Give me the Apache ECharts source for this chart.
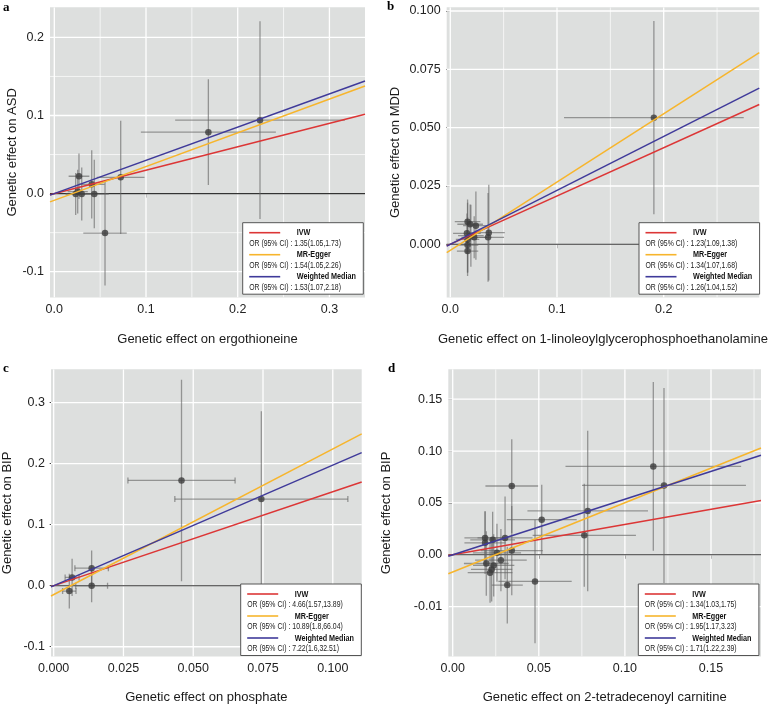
<!DOCTYPE html>
<html><head><meta charset="utf-8">
<script src="https://cdn.jsdelivr.net/npm/echarts@6/dist/echarts.min.js"></script>
<style>html,body{margin:0;padding:0;background:#fff}#c{width:770px;height:705px}</style>
</head><body><div id="c"></div>
<script>
// ---------- DATA ----------
const methods = ['IVW', 'MR-Egger', 'Weighted Median'];

// Panel a : ergothioneine -> ASD
const aBx = [0.168, 0.2243, 0.0724, 0.0553, 0.0408, 0.0436, 0.0269, 0.0233, 0.0255, 0.0299];
const aBy = [0.0786, 0.094, 0.0209, -0.0505, 0.0119, -0.0005, 0.0222, -0.0005, 0.0026, -0.0005];
const aSx = [0.0736, 0.0925, 0.026, 0.0237, 0.0141, 0.0158, 0.0113, 0.011, 0.011, 0.011];
const aSy = [0.0677, 0.1265, 0.0725, 0.0671, 0.0437, 0.044, 0.029, 0.027, 0.028, 0.034];
const aOR = [1.35, 1.54, 1.53];
const aCI = ['1.35(1.05,1.73)', '1.54(1.05,2.26)', '1.53(1.07,2.18)'];
const aEggerIntercept = -0.0086;
const aXTicks = [0, 0.1, 0.2, 0.3];
const aXLabels = ['0.0', '0.1', '0.2', '0.3'];
const aYTicks = [-0.1, 0, 0.1, 0.2];
const aYLabels = ['-0.1', '0.0', '0.1', '0.2'];
const aXMinor = [0.05, 0.15, 0.25];
const aYMinor = [-0.05, 0.05, 0.15];
const aXRange = [-0.0047, 0.3388];
const aYRange = [-0.133, 0.2385];
const aXName = 'Genetic effect on ergothioneine';
const aYName = 'Genetic effect on ASD';

// Panel b : 1-linoleoylglycerophosphoethanolamine -> MDD
const bBx = [0.1908, 0.0162, 0.0186, 0.024, 0.0156, 0.0193, 0.0224, 0.0162, 0.0162, 0.0162, 0.0361, 0.0354];
const bBy = [0.0543, 0.0097, 0.0086, 0.008, 0.0047, 0.0037, 0.003, 0.0021, -0.0003, -0.0029, 0.005, 0.003];
const bSx = [0.0842, 0.012, 0.012, 0.012, 0.013, 0.012, 0.012, 0.011, 0.010, 0.010, 0.015, 0.015];
const bSy = [0.0414, 0.0095, 0.0085, 0.0146, 0.0085, 0.0133, 0.009, 0.0157, 0.012, 0.009, 0.0205, 0.019];
const bOR = [1.23, 1.34, 1.26];
const bCI = ['1.23(1.09,1.38)', '1.34(1.07,1.68)', '1.26(1.04,1.52)'];
const bEggerIntercept = -0.0026;
const bXTicks = [0, 0.1, 0.2];
const bXLabels = ['0.0', '0.1', '0.2'];
const bYTicks = [0, 0.025, 0.05, 0.075, 0.1];
const bYLabels = ['0.000', '0.025', '0.050', '0.075', '0.100'];
const bXMinor = [0.05, 0.15, 0.25];
const bYMinor = [];
const bXRange = [-0.00336, 0.28956];
const bYRange = [-0.0228, 0.10159];
const bXName = 'Genetic effect on 1-linoleoylglycerophosphoethanolamine';
const bYName = 'Genetic effect on MDD';

// Panel c : phosphate -> BIP
const cBx = [0.0458, 0.0744, 0.0136, 0.0066, 0.0056, 0.0136];
const cBy = [0.1725, 0.142, 0.0288, 0.0136, -0.0088, 0.0];
const cSx = [0.0192, 0.031, 0.006, 0.0025, 0.0024, 0.0057];
const cSy = [0.165, 0.144, 0.029, 0.0305, 0.0285, 0.027];
const cOR = [4.66, 10.89, 7.22];
const cCI = ['4.66(1.57,13.89)', '10.89(1.8,66.04)', '7.22(1.6,32.51)'];
const cEggerIntercept = -0.0146;
const cXTicks = [0, 0.025, 0.05, 0.075, 0.1];
const cXLabels = ['0.000', '0.025', '0.050', '0.075', '0.100'];
const cYTicks = [-0.1, 0, 0.1, 0.2, 0.3];
const cYLabels = ['-0.1', '0.0', '0.1', '0.2', '0.3'];
const cXMinor = [];
const cYMinor = [];
const cXRange = [-0.00096, 0.11036];
const cYRange = [-0.116, 0.3546];
const cXName = 'Genetic effect on phosphate';
const cYName = 'Genetic effect on BIP';

// Panel d : 2-tetradecenoyl carnitine -> BIP
const dBx = [0.1165, 0.1227, 0.0784, 0.0764, 0.0517, 0.0478, 0.0343, 0.0343, 0.0304, 0.0188, 0.0188, 0.0232, 0.0257, 0.028, 0.0195, 0.0238, 0.0226, 0.0217, 0.0317];
const dBy = [0.0852, 0.0669, 0.0423, 0.0188, 0.0339, -0.0257, 0.0663, 0.0041, 0.0163, 0.0163, 0.0115, 0.0144, 0.0019, -0.0052, -0.0084, -0.0103, -0.0141, -0.0173, -0.0292];
const dSx = [0.051, 0.0476, 0.035, 0.030, 0.0203, 0.0213, 0.0153, 0.018, 0.016, 0.012, 0.012, 0.013, 0.014, 0.015, 0.013, 0.012, 0.012, 0.013, 0.009];
const dSy = [0.0814, 0.094, 0.0774, 0.0497, 0.0337, 0.0596, 0.0452, 0.043, 0.040, 0.026, 0.030, 0.027, 0.028, 0.030, 0.031, 0.030, 0.031, 0.029, 0.037];
const dOR = [1.34, 1.95, 1.71];
const dCI = ['1.34(1.03,1.75)', '1.95(1.17,3.23)', '1.71(1.22,2.39)'];
const dEggerIntercept = -0.0166;
const dXTicks = [0, 0.05, 0.1, 0.15];
const dXLabels = ['0.00', '0.05', '0.10', '0.15'];
const dYTicks = [-0.05, 0, 0.05, 0.1, 0.15];
const dYLabels = ['-0.01', '0.00', '0.05', '0.10', '0.15'];
const dXMinor = [0.025, 0.075, 0.125, 0.175];
const dYMinor = [];
const dXRange = [-0.00256, 0.17904];
const dYRange = [-0.09808, 0.17885];
const dXName = 'Genetic effect on 2-tetradecenoyl carnitine';
const dYName = 'Genetic effect on BIP';

// ---------- BUILD ----------
const FONT = "'Liberation Sans',Arial,sans-serif";
const lineColors = ['#DC3636', '#F7B52C', '#3F3A9A'];

const panels = [
  {letter: 'a', bx: aBx, by: aBy, sx: aSx, sy: aSy, or: aOR, ci: aCI, icpt: aEggerIntercept,
   xt: aXTicks, xl: aXLabels, yt: aYTicks, yl: aYLabels, xm: aXMinor, ym: aYMinor, xr: aXRange, yr: aYRange,
   xname: aXName, yname: aYName, grid: {left: 50, top: 7.3, width: 315, height: 290.2},
   xGap: 35, yGap: 31, legend: [242.7, 222.7], letterPos: [3, 7.5], cap: false},
  {letter: 'b', bx: bBx, by: bBy, sx: bSx, sy: bSy, or: bOR, ci: bCI, icpt: bEggerIntercept,
   xt: bXTicks, xl: bXLabels, yt: bYTicks, yl: bYLabels, xm: bXMinor, ym: bYMinor, xr: bXRange, yr: bYRange,
   xname: bXName, yname: bYName, grid: {left: 446.7, top: 7.3, width: 314.3, height: 290.2},
   xGap: 35, yGap: 45, legend: [639, 222.7], letterPos: [387, 7], cap: false},
  {letter: 'c', bx: cBx, by: cBy, sx: cSx, sy: cSy, or: cOR, ci: cCI, icpt: cEggerIntercept,
   xt: cXTicks, xl: cXLabels, yt: cYTicks, yl: cYLabels, xm: cXMinor, ym: cYMinor, xr: cXRange, yr: cYRange,
   xname: cXName, yname: cYName, grid: {left: 50, top: 369.3, width: 311.7, height: 288},
   xGap: 34.5, yGap: 37, legend: [240.7, 584], letterPos: [3, 368.3], cap: true},
  {letter: 'd', bx: dBx, by: dBy, sx: dSx, sy: dSy, or: dOR, ci: dCI, icpt: dEggerIntercept,
   xt: dXTicks, xl: dXLabels, yt: dYTicks, yl: dYLabels, xm: dXMinor, ym: dYMinor, xr: dXRange, yr: dYRange,
   xname: dXName, yname: dYName, grid: {left: 448.3, top: 369.3, width: 312.7, height: 288},
   xGap: 34.5, yGap: 55, legend: [638.3, 584], letterPos: [388, 368.3], cap: false}
];

function labelFor(ticks, labels) {
  return function (v) {
    const i = ticks.findIndex(t => Math.abs(t - v) < 1e-9);
    return i >= 0 ? labels[i] : '';
  };
}

const grids = [], xAxes = [], yAxes = [], series = [], graphics = [];

panels.forEach((p, k) => {
  grids.push(Object.assign({show: true, backgroundColor: '#DDDFDE', borderWidth: 0, containLabel: false}, p.grid));
  const axisCommon = {
    type: 'value',
    gridIndex: k,
    nameLocation: 'middle',
    nameTextStyle: {fontFamily: FONT, fontSize: 13, color: '#1a1a1a'},
    axisLine: {show: false},
    splitLine: {show: false},
    axisTick: {show: true, length: 4, lineStyle: {color: '#444', width: 1}},
  };
  const labelStyle = {fontFamily: FONT, fontSize: 12.5, color: '#222', margin: 6};
  xAxes.push(Object.assign({}, axisCommon, {
    min: p.xr[0], max: p.xr[1], name: p.xname, nameGap: p.xGap,
    axisTick: Object.assign({}, axisCommon.axisTick, {customValues: p.xt}),
    axisLabel: Object.assign({customValues: p.xt, formatter: labelFor(p.xt, p.xl)}, labelStyle)
  }));
  yAxes.push(Object.assign({}, axisCommon, {
    min: p.yr[0], max: p.yr[1], name: p.yname, nameGap: p.yGap,
    axisTick: Object.assign({}, axisCommon.axisTick, {customValues: p.yt}),
    axisLabel: Object.assign({customValues: p.yt, formatter: labelFor(p.yt, p.yl)}, labelStyle)
  }));

  // grid lines + zero reference line (custom)
  const gl = [];
  p.xm.forEach(v => gl.push([v, 0, 0]));
  p.ym.forEach(v => gl.push([v, 1, 0]));
  p.xt.forEach(v => gl.push([v, 0, 1]));
  p.yt.forEach(v => gl.push([v, 1, 1]));
  gl.push([0, 1, 2]);
  series.push({
    type: 'custom', xAxisIndex: k, yAxisIndex: k, silent: true, z: 1, clip: true,
    data: gl,
    encode: {x: -1, y: -1},
    renderItem: function (params, api) {
      const v = api.value(0), o = api.value(1), kind = api.value(2);
      const cs = params.coordSys;
      let shape;
      if (o === 0) {
        const px = api.coord([v, 0])[0];
        shape = {x1: px, y1: cs.y, x2: px, y2: cs.y + cs.height};
      } else {
        const py = api.coord([0, v])[1];
        shape = {x1: cs.x, y1: py, x2: cs.x + cs.width, y2: py};
      }
      const style = kind === 2 ? {stroke: '#333', lineWidth: 1.1}
        : kind === 1 ? {stroke: '#ffffff', lineWidth: 1.3}
        : {stroke: '#ffffff', lineWidth: 0.7};
      return {type: 'line', shape: shape, style: style};
    }
  });

  // error bars
  const eb = p.bx.map((x, i) => [x, p.by[i], p.sx[i], p.sy[i]]);
  const cap = p.cap;
  series.push({
    type: 'custom', xAxisIndex: k, yAxisIndex: k, silent: true, z: 2, clip: true,
    data: eb, encode: {x: 0, y: 1},
    renderItem: function (params, api) {
      const x = api.value(0), y = api.value(1), sx = api.value(2), sy = api.value(3);
      const v1 = api.coord([x, y - sy]), v2 = api.coord([x, y + sy]);
      const h1 = api.coord([x - sx, y]), h2 = api.coord([x + sx, y]);
      const st = {stroke: 'rgba(100,100,100,0.62)', lineWidth: 1.3};
      const ch = [
        {type: 'line', shape: {x1: v1[0], y1: v1[1], x2: v2[0], y2: v2[1]}, style: st},
        {type: 'line', shape: {x1: h1[0], y1: h1[1], x2: h2[0], y2: h2[1]}, style: st}
      ];
      if (cap) {
        ch.push({type: 'line', shape: {x1: h1[0], y1: h1[1] - 3, x2: h1[0], y2: h1[1] + 3}, style: st});
        ch.push({type: 'line', shape: {x1: h2[0], y1: h2[1] - 3, x2: h2[0], y2: h2[1] + 3}, style: st});
      }
      return {type: 'group', children: ch};
    }
  });

  // points
  series.push({
    type: 'scatter', xAxisIndex: k, yAxisIndex: k, z: 3, silent: true,
    symbol: 'circle', symbolSize: 6.5,
    itemStyle: {color: '#3c3c3c'},
    data: p.bx.map((x, i) => [x, p.by[i]])
  });

  // regression lines
  methods.forEach((m, j) => {
    const s = Math.log(p.or[j]);
    const b = m === 'MR-Egger' ? p.icpt : 0;
    series.push({
      type: 'line', xAxisIndex: k, yAxisIndex: k, z: 4, silent: true, clip: true,
      showSymbol: false, symbol: 'none', animation: false,
      lineStyle: {color: lineColors[j], width: 1.5},
      data: [[p.xr[0], b + s * p.xr[0]], [p.xr[1], b + s * p.xr[1]]]
    });
  });

  // legend box
  const L = p.legend;
  graphics.push({type: 'rect', z: 100, shape: {x: L[0], y: L[1], width: 120.6, height: 71.5},
               style: {fill: '#ffffff', stroke: '#555', lineWidth: 1}});
  methods.forEach((m, j) => {
    const ly = L[1] + 10 + j * 22;
    graphics.push({type: 'line', z: 101, shape: {x1: L[0] + 6.5, y1: ly, x2: L[0] + 37.5, y2: ly},
      style: {stroke: lineColors[j], lineWidth: 1.6}});
    graphics.push({type: 'text', z: 101, x: L[0] + 54, y: ly, scaleX: 0.76,
      style: {text: m, fill: '#111', font: "bold 9.5px " + FONT, verticalAlign: 'middle', align: 'left'}});
    graphics.push({type: 'text', z: 101, x: L[0] + 6.5, y: ly + 10.8, scaleX: 0.74,
      style: {text: 'OR (95% CI) : ' + p.ci[j], fill: '#222', font: "9.3px " + FONT, verticalAlign: 'middle', align: 'left'}});
  });

  graphics.push({type: 'text', x: p.letterPos[0], y: p.letterPos[1], z: 101,
    style: {text: p.letter, fill: '#000', font: "bold 13px 'Liberation Serif','DejaVu Serif',serif", verticalAlign: 'middle', align: 'left'}});
});

const chart = echarts.init(document.getElementById('c'));
chart.setOption({
  animation: false,
  backgroundColor: '#ffffff',
  grid: grids,
  xAxis: xAxes,
  yAxis: yAxes,
  series: series,
  graphic: graphics
});
</script>
</body></html>
